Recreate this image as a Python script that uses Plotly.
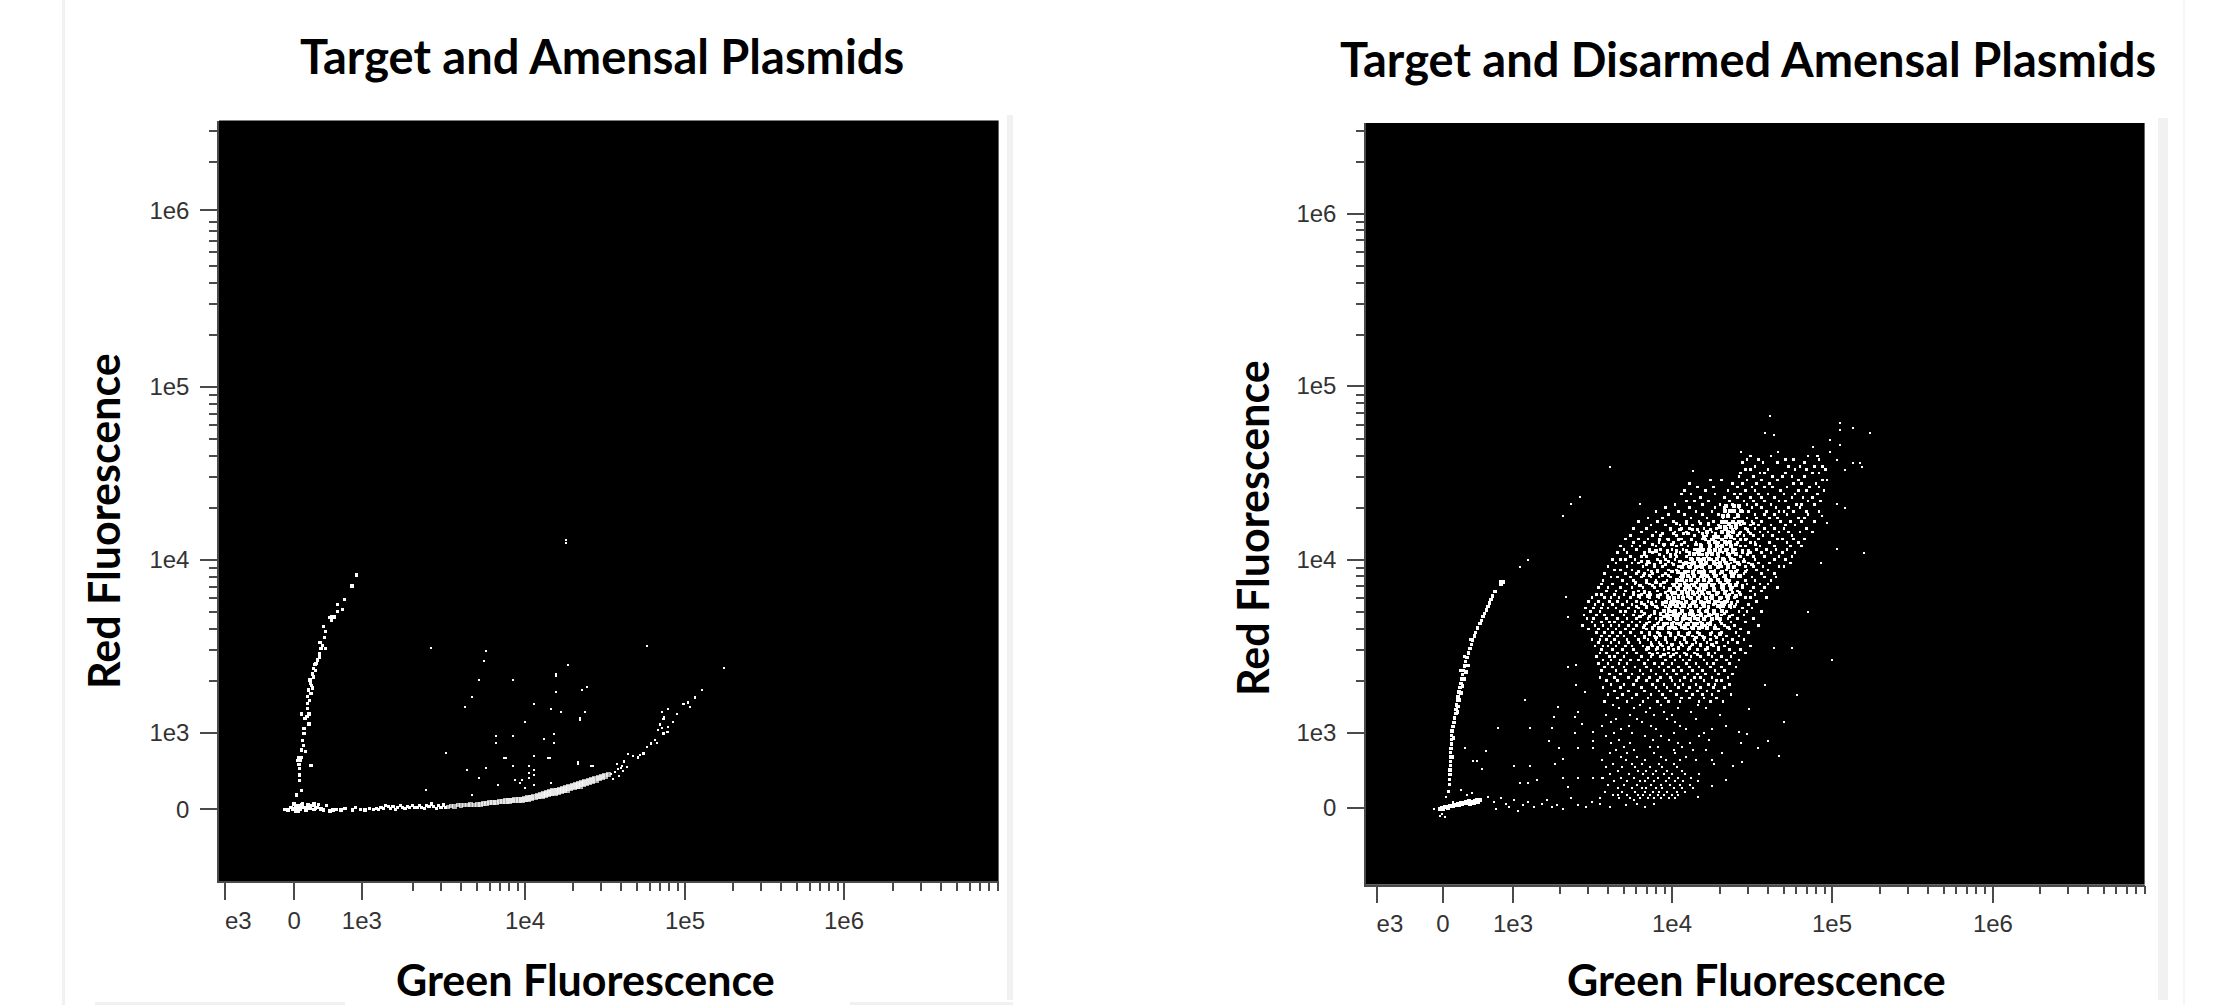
import math
import plotly.graph_objects as go

# All values are in instrument display channels (biexponential scale, 100 channels per decade).
LEFT_X_TICKS = [112.5, 155.8, 198, 300, 400, 499.4]
LEFT_Y_TICKS = [156, 200, 300, 400, 502]
RIGHT_X_TICKS = [115.4, 156.9, 200.6, 300, 400, 500.6]
RIGHT_Y_TICKS = [156.6, 200, 300, 400.5, 500]
X_LABELS = ["\u00a0\u00a0\u00a0\u00a0e3", "0", "1e3", "1e4", "1e5", "1e6"]
Y_LABELS = ["0", "1e3", "1e4", "1e5", "1e6"]

# ---- Left panel: target and amensal plasmids
left_arc_green = [194.8,191.9,187.3,182.9,185.8,182.9,180.6,179.2,177.7,179.2,181,174,175.4,174.6,171.9,175.4,173.4,172.5,171.5,170.2,171.5,168.7,167.7,169.4,169,167.1,165.6,168,166.7,164.6,166.2,167.4,164.2,165.4,164.2,164.2,160.4,165,162.5,165,161.9,161.9,161,160.4,166.2,159.4,157.7,158.6,159,159,159,160.4,157.3,161.4,163,160.2,158.7,163.8,165.8]
left_arc_red = [291.3,285,277.3,274.4,271.5,270.1,267.2,267.2,266.7,265.3,267,261.8,258.6,255.3,252.2,248.9,250.6,248.9,245.7,242.2,243.8,239.7,237.4,240.4,236,234.1,230.6,232.4,227.7,224.9,222.9,226,221,219,217.1,214.3,211,211,208.5,205.2,202.7,199.8,195.9,190.2,181.1,184.4,184,186,179.6,175.7,172.8,167,164.2,193,189.2,186,182,209.5,228.8]
left_blob_green = [150,152,153.5,155,156.5,157,158,159.5,160.5,162,163,164.5,165.5,167,168,170,171,172.5,174,155.5,158.5,161,164,168,172,176,178,154,157,160,163,166,169]
left_blob_red = [155.9,155.5,157,156,157.5,155,158,156,158.5,157,155.5,158.5,156.5,158,155.8,157,158.8,156.5,155.5,159,155,159,157.5,159,156,158,155,157,156.6,157.4,157,157.2,156.8]
left_tail_green = [180,182,185,187.5,192,194,197,200,203,205.5,207,208.5,210,211.5,213,214.5,216,217.5,219,220.5,222,223.5,225,226.5,228,229.5,231,232.5,234,235.5,237,238.5,240,241.5,243,244.5,246,247.5,249,250.5]
left_tail_red = [155.5,156,155.5,156.5,155.5,157,156,155.5,156.5,156,156.5,156,157,156.5,158,157.5,156.5,157.5,156,157,158,157,156.5,157.5,157,158,157,156.8,158.2,157,156.5,158,157.4,159,157.5,156.5,158,157,158.4,157]
left_band_green = [252,254,256,258,260,262,264,266,268,270,272,274,276,278,280,282,284,286,288,290,292,294,296,298,300,302,304,306,308,310,312,314,316,318,320,322,324,326,328,330,332,334,336,338,340,342,344,346,348,350,352]
left_band_red = [157.5,158,157.5,158.2,158,158.5,158.3,158.7,158.5,159,158.8,159.2,159.3,159.6,159.8,160,160.2,160.4,160.6,160.8,161,161.2,161.4,161.6,162,162.3,162.7,163,163.5,164,164.5,165,165.5,165.9,166.3,166.8,167.3,167.8,168.4,168.9,169.5,170.1,170.8,171.4,172,172.6,173.2,173.9,174.6,175.3,176]
left_band_widths = [4,4,4.5,4,4.5,4,4.5,5,4.5,5,5,5,5,5,5.5,5.5,5,5.5,5.5,5.5,5.5,6,6,6,6,6.5,6,6.5,6.5,7,7,7,7,7.5,7,7,7,7.5,7,7,7,7.5,7,7,6.5,6.5,6.5,6,6,5.5,5]
left_fray_green = [354,356,358,360,357.3,360.4,363.5,355,359,361.5,362,364.6,367.7,370.8,374,378.5,382.3,383.3,386.5,389.6,392.7,385.4,389.6,386.9,394.8,399,402.1,403.1,406.3,410.8,372,376,381,389,385.4,384.2,386.5]
left_fray_red = [176.5,177.6,179,180,182,181,180.5,173.5,175,178,183.5,187.9,186.7,185.9,188.2,194,194.4,201.7,199.8,203.7,206.6,212.3,213.7,209.1,211,216.6,217.7,215.2,220.6,224.9,187.4,192,196,200.8,203,205,208]
left_stray_green = [325.4,325.4,241.3,275.6,274.4,271.3,292.3,266.9,262.5,319.4,319.4,326.9,319.4,335.8,338.8,305.8,316.3,322.3,337.3,334.4,334.4,299.8,281.9,292.3,317.9,311.9,281.9,317.9,250.4,287.1,288.4,305.8,314.2,315.5,332.9,332.9,341,342.3,292.3,302.7,263.8,275.8,305.8,302.7,305.8,271.3,302.7,293.8,298.3,296.9,316.3,283.3,305.8,299.8,238.3,266.9,376.3,424.4]
left_stray_red = [311.5,309.6,248.9,247.6,241.8,230.6,230.6,220.6,215,234.1,232.8,239.1,223.5,224.9,226.4,216.6,213.7,212.3,212.3,208.9,207.6,206.6,198.3,198.3,199.4,196.5,194,194,188.2,185.4,185.4,186.7,185.4,185.4,183.4,182,181.1,181.1,181.1,181.1,178.4,179.8,178.4,177.1,175.5,174.2,174.2,172.8,172.8,171.3,171.3,170,170,168.4,167,164.2,250.3,237.8]

# ---- Right panel: target and disarmed amensal plasmids
right_arc_green = [160.8,161,161.2,161.3,161.4,161.6,161.6,161.7,161.8,162,162.1,162.2,162.5,163,163.7,164.2,164.8,165,165.4,165.8,166.3,166.9,167.4,168,168.8,169,169.6,170.5,171,171.8,172.8,173.7,174.8,175.5,176.5,177.3,178.6,180,181,182,183,183.9,184.9,186,187,188,189.4,193,193.5,194.4,192.8,160.2,163.5,166,168,162.7,170.5,174,165.4,166.2,167.2,168.2,169.2,170.2,171.2,172.4]
right_arc_red = [170,173,176,178.5,181,183.5,186,188.5,191,193.5,196,198.5,201,203.5,206,208.5,211,213.5,216,218.9,221,223.5,226,228.5,231,233.5,236,238.5,241,243.5,246,248.5,251,253.5,256,258,260.5,263,265,267,269,271,273,275,277,279,281.5,287.3,285.5,287,286,166,197,212,236,186,244,254,211,215,219,223,227,231,235,239]
right_blob_green = [155,156,157,158,159,160,161,162,163,164,165,166,167,168,169,170,171,172,173,174,175,176,177,178,179,180]
right_blob_red = [156,156.4,156,156.8,157.2,156.6,157.5,157.9,157.4,158.4,158.1,158.8,158.3,159.1,158.7,159.4,160,159.2,160.3,158.9,160.2,159.5,160.6,161,159.8,161.2]
right_stray_green = [361,405,405,413,424,358,364,399,405,399,343,366,388,403,413,417.5,418.5,408,261,313,242.5,237,232,280,403,408,394,397,403,420,393,210,205,233.5,235,400,385,364,375,358,378,348,370,360,353.5,367,334,316,342,347,343,338,343.5,325,325,208,191.5,211,170.5,184,175.5,178,181,201,211,205,210,215.5,225,223,226,229,229.5,227,232,241.5,235,240,240,245.5,241.5,239.5,239.5,244,250.5,250.5,250.5,232,241.5,250.5,256,235,151,155,158,156,185,189,190,193,196,198,201,204,207,210,214,219,222,225,228,232,237,241,246,250,255,261,266,271,276,278,283,289,158.5,163,168,172,175]
right_stray_red = [383,379,375,376,373.5,373.5,372,369,366,362,362,362,365,357.5,356,355.7,353.8,352,353.8,351,336.4,332,325,332,332,330,325,321,306,304,298,300,295.6,278.6,267,242,270,248.7,248.7,227.6,221.8,213.5,206,195,191,186.7,172.6,163,200.6,199,194,181,183,184,169,219,202.5,202.5,191,189.6,183.8,183.8,179,181,181,171,171,172.6,202.5,195,209,215,191,182,185,191,238,239,227.6,223.7,212,209,200,205,200.6,195,191,174,174,174,174,168.4,156,152,151,153,163,160,156,162,159,157,161,155,158,160,157,159,161,157,158,156,162,158,157,160,159,157,164,158,161,159,157,159,163,160,167,164,165]

cloud_red_levels = [360,358,356,354,352,350,348,346,344,342,340,338,336,334,332,330,328,326,324,322,320,318,316,314,312,310,308,306,304,302,300,298,296,294,292,290,288,286,284,282,280,278,276,274,272,270,268,266,264,262,260,258,256,254,252,250,248,246,244,242,240,238,236,234,232,230,228,226,224,222,220,218]
cloud_green_by_level = [
 [349,362,385,391],
 [347,354,371,376,392],
 [344,357,366,383],
 [352,373,380,389,394],
 [346,349,360,377,384,396],
 [343,355,358,371,388,392],
 [342,351,363,369,375,383],
 [324,331,347,356,366,379,394,397],
 [311,338,344,353,361,376,381,390],
 [316,326,341,350,358,363,372,386,392],
 [308,321,335,346,352,368,379,384,395],
 [306,312,327,339,343,354,360,370,377,391],
 [318,333,341,349,356,364,375,382,388],
 [309,314,323,336,345,351,358,367,371,385,393],
 [302,319,330,338,347,353,362,378,381,389],
 [296,311,327,333,342,350,356,365,373,380],
 [290,304,315,325,337,344,348,359,367,370,376,384,392],
 [298,308,319,329,335,341,352,358,364,372,385],
 [285,294,312,322,332,339,347,353,361,366,379,383],
 [279,291,301,309,317,326,331,338,344,350,356,368,374,381,389],
 [287,296,305,313,323,329,335,343,349,354,362,371,377],
 [276,284,299,306,311,320,328,334,340,346,352,358,364,370,384],
 [281,290,302,309,317,325,331,337,343,348,355,360,367,373,380,388],
 [274,288,293,303,314,322,327,336,341,345,351,357,363,375],
 [271,279,285,297,306,312,319,326,332,339,347,354,366,369,376,383],
 [276,283,292,301,308,315,323,329,334,341,349,352,361,372,379],
 [268,275,280,290,295,303,310,318,330,337,343,346,355,364,374,381],
 [270,278,286,293,300,307,314,320,327,335,340,353,359,365,372],
 [266,272,283,288,297,305,311,316,324,332,338,344,349,356,362,369,377],
 [274,281,284,295,299,303,309,322,329,336,343,351,358,367,375],
 [263,268,271,277,291,296,302,313,318,325,333,339,345,352,364,371],
 [265,275,279,286,293,300,307,311,321,328,337,342,348,354,361,374],
 [260,272,282,289,294,304,310,317,324,331,335,346,351,357,367,370],
 [264,268,275,285,291,298,303,314,320,327,334,341,347,353,360],
 [258,271,278,283,288,296,306,313,319,326,330,339,345,356,364],
 [262,266,274,281,287,292,299,305,311,318,323,332,337,343,350,358,365],
 [257,269,276,284,290,297,304,309,316,325,329,336,346,352,362],
 [256,263,272,277,286,293,300,308,312,320,327,333,340,347,355,360],
 [254,260,268,275,282,289,295,303,310,315,322,331,338,344,351,358,366],
 [259,265,271,279,283,291,298,306,313,318,326,334,341,349,356],
 [253,256,264,270,276,281,287,293,300,307,314,320,328,336,343,352],
 [250,258,262,267,274,280,286,292,297,304,311,317,324,331,339,346,349,359],
 [248,254,261,266,272,278,285,290,296,302,309,315,322,329,335,341,353],
 [252,257,263,269,275,283,288,294,301,308,312,319,326,333,340,348],
 [246,251,256,260,265,273,279,284,291,298,305,310,318,323,330,337,344,350],
 [249,255,268,271,277,281,289,295,300,307,313,321,327,334,342,347,356],
 [245,253,258,263,270,276,282,287,293,299,304,311,316,325,331,338,345],
 [247,251,259,266,272,278,285,290,297,302,309,314,320,328,335,341,351],
 [250,256,261,264,269,275,280,286,292,301,306,312,318,324,330,337,346],
 [244,252,257,262,267,273,278,283,289,295,300,308,315,321,327,333,339,354],
 [248,254,260,265,271,276,284,288,294,303,310,317,322,329,336,343],
 [253,258,263,268,274,281,286,291,298,304,311,316,325,331,340,348],
 [256,261,266,270,277,283,289,293,299,306,313,319,327,334,342],
 [250,255,259,264,272,279,285,290,296,302,308,314,320,324,332,338,345],
 [254,262,267,273,280,287,292,297,305,309,315,322,328,335,341],
 [252,257,260,265,271,275,282,288,294,300,307,312,318,326,333,349],
 [256,263,269,276,284,290,295,301,310,316,321,329,336,343],
 [255,259,266,272,278,286,291,298,303,308,314,323,327,339,346],
 [253,261,264,270,281,287,293,299,305,312,318,325,331,337],
 [257,262,268,274,279,285,296,302,307,311,320,328,334,342],
 [254,260,267,272,283,289,294,300,309,315,322,326,336],
 [258,263,270,277,284,292,298,304,311,317,324,331,340],
 [256,265,271,280,287,295,301,306,313,319,327,333],
 [261,268,275,282,290,297,303,310,316,321,329,338],
 [255,264,273,279,286,293,299,308,314,318,325,335],
 [259,266,278,284,291,300,305,312,320,328,331],
 [262,270,276,288,295,302,307,315,323,327,336],
 [257,268,281,290,297,304,311,318,326,333],
 [264,273,283,292,299,309,316,322,329],
 [260,269,278,287,294,303,313,319,325,337],
 [266,275,285,296,306,311,320,328],
 [258,272,282,291,298,305,317,324,332],
]

low_red_levels = [216,214,212,210,208,206,204,202,200,198,196,194,192,190,188,186,184,182,180,178,176,174,172,170,168,166,164,162]
low_green_by_level = [
 [263,280,293,316],
 [267,276,286,304,321],
 [284,295,312],
 [259,274,289,300,330],
 [265,278,297,315],
 [262,281,302],
 [256,273,287,305,334],
 [268,290,309,325],
 [264,275,301,320],
 [259,283,293,317],
 [267,288,298,323],
 [262,274,304,311],
 [270,286,291,306],
 [265,276,301,313,321],
 [261,272,289,302,331],
 [268,278,293,309],
 [256,271,283,296,305,315],
 [263,275,281,292,301,326],
 [259,269,277,286,294,303],
 [266,279,284,290,297,306],
 [261,273,282,288,295,300,308,317],
 [257,268,276,285,291,298,304,312],
 [264,272,280,283,289,296,302,307,316],
 [260,270,278,287,293,299,305,311],
 [266,275,281,284,290,294,301,306,313],
 [258,269,277,283,288,292,297,303,308],
 [263,272,279,282,286,291,295,300,304],
 [255,267,274,280,285,289,293,298,302],
]

halo_red_levels = [321,317.5,315,311.5,309,305,303,299,297,293,291,287,285,281,279,275,273,269,267,263,261,257,255,251,249,245]
halo_green_by_level = [
 [303,309,318,323,336,340,345,351],
 [299,305,313,316,324,333,338,347],
 [294,301,307,310,319,327,335,342,349],
 [292,298,304,312,321,325,331,343,346],
 [288,295,300,306,315,318,328,334,340,352],
 [286,290,297,303,309,316,324,330,338,344,348],
 [283,292,299,302,311,319,322,329,336,347],
 [281,285,293,298,305,313,317,326,333,339,345],
 [284,289,296,301,307,312,320,327,335,342,350],
 [279,287,291,300,304,310,318,324,331,340,346],
 [282,286,294,298,306,314,321,328,337,343],
 [277,284,290,295,303,308,315,323,330,335,341],
 [280,288,293,301,305,311,319,326,332,344],
 [276,283,286,296,300,309,316,322,329,338,342],
 [279,285,291,297,304,310,317,325,334,340],
 [281,287,294,299,306,313,320,327,331,337],
 [278,284,290,296,302,308,315,323,330,339],
 [283,289,293,301,305,311,318,326,333],
 [280,286,295,298,307,314,321,328,336],
 [284,291,297,303,309,316,322,331],
 [282,288,294,300,306,312,319,327,335],
 [286,292,299,304,310,317,324,330],
 [283,290,296,302,308,315,320,328],
 [287,293,300,306,313,318,325],
 [285,291,298,304,311,322,329],
 [288,295,301,309,316,323],
]

core_red_levels = [331,328,325,322,319,316,313,310.5,308,305.5,303,300.5,298,295.5,293,290.5,288,285.5,283,280.5,278,275.5,273,270.5,268,265.5,263,260.5]
core_green_by_level = [
 [334,339,342],
 [333,336,339,343],
 [332,335,341],
 [331,334,338,342],
 [330,333,337,340],
 [322,331,335,338],
 [320,326,329,334,337],
 [323,327,333,336],
 [318,324,328,331,337],
 [316,319,323,327,330,334,338],
 [314,317,322,325,329,335,340],
 [312,316,320,323,328,332,337],
 [309,314,318,321,326,330,334,341],
 [306,311,315,319,324,329,335,339],
 [304,308,313,317,320,326,331,337],
 [307,310,314,319,322,327,333,338,342],
 [303,306,312,316,320,324,329,334],
 [301,305,309,314,318,321,325,331,336,340],
 [299,304,308,311,317,320,326,332,337],
 [302,306,310,313,319,323,328,333],
 [298,301,307,312,316,321,325,330,335],
 [296,300,304,309,314,318,323,327,333],
 [299,303,307,311,315,320,329,332,336],
 [295,298,302,306,312,317,322,326,331],
 [297,301,304,308,313,318,323,328],
 [293,299,303,307,311,316,320,325,330],
 [295,300,305,310,314,319,324],
 [292,298,302,308,313,317,322,327],
]

def flatten(levels, rows):
    gx, gy = [], []
    for level, row in zip(levels, rows):
        for value in row:
            gx.append(value)
            gy.append(level)
    return gx, gy

cloud_green, cloud_red = flatten(cloud_red_levels, cloud_green_by_level)
low_green, low_red = flatten(low_red_levels, low_green_by_level)
halo_green, halo_red = flatten(halo_red_levels, halo_green_by_level)
core_green, core_red = flatten(core_red_levels, core_green_by_level)

fig = go.Figure()

def add(name, gx, gy, size, axes):
    fig.add_trace(go.Scatter(x=gx, y=gy, mode="markers", name=name, showlegend=False, hoverinfo="skip",
                             marker=dict(color="white", size=size, symbol="square", line=dict(width=0)),
                             xaxis=axes[0], yaxis=axes[1]))

L = ("x", "y")
R = ("x2", "y2")
add("arc", left_arc_green, left_arc_red, 3.2, L)
add("baseline", left_blob_green, left_blob_red, 3.4, L)
add("tail", left_tail_green, left_tail_red, 3.2, L)
add("band", left_band_green, left_band_red, left_band_widths, L)
add("fray", left_fray_green, left_fray_red, 2.2, L)
add("stray", left_stray_green, left_stray_red, 2, L)
add("cloud", cloud_green, cloud_red, 2.6, R)
add("low", low_green, low_red, 2, R)
add("halo", halo_green, halo_red, 3.2, R)
add("core", core_green, core_red, 4, R)
add("arc", right_arc_green, right_arc_red, 3.4, R)
add("baseline", right_blob_green, right_blob_red, 4, R)
add("stray", right_stray_green, right_stray_red, 2, R)

W, H = 2215, 1005
TICK_FONT = dict(family="Liberation Sans, Arial, sans-serif", size=24, color="#333333")
AXIS_COLOR = "#4a4a4a"

def decade_minors(first, last):
    vals = []
    for d in range(first, last):
        for k in range(2, 10):
            vals.append(d * 100 + 100 * math.log10(k))
    return vals

def x_axis(domain, rng, ticks, anchor):
    return dict(domain=[domain[0] / W, domain[1] / W], range=rng, anchor=anchor, tickmode="array", tickvals=ticks, ticktext=X_LABELS,
                ticks="outside", ticklen=17, tickwidth=1.5, tickcolor=AXIS_COLOR, tickfont=TICK_FONT, ticklabelstandoff=0,
                showgrid=False, zeroline=False, showline=True, linecolor=AXIS_COLOR, linewidth=1.5,
                minor=dict(tickmode="array", tickvals=decade_minors(2, 6), ticks="outside", ticklen=8, tickwidth=1.5, tickcolor=AXIS_COLOR, showgrid=False))

def y_axis(domain, rng, ticks, anchor):
    return dict(domain=[1 - domain[1] / H, 1 - domain[0] / H], range=rng, anchor=anchor, tickmode="array", tickvals=ticks, ticktext=Y_LABELS,
                ticks="outside", ticklen=17, tickwidth=1.5, tickcolor=AXIS_COLOR, tickfont=TICK_FONT, ticklabelstandoff=6,
                showgrid=False, zeroline=False, showline=True, linecolor=AXIS_COLOR, linewidth=1.5,
                minor=dict(tickmode="array", tickvals=decade_minors(2, 6), ticks="outside", ticklen=8, tickwidth=1.5, tickcolor=AXIS_COLOR, showgrid=False))

def text(label, x, y, size, angle=0):
    return dict(text=label, x=x / W, y=1 - y / H, xref="paper", yref="paper", showarrow=False, textangle=angle,
                xanchor="center", yanchor="middle", font=dict(family="Lato, Noto Sans, sans-serif", size=size, color="black", weight="bold"))

def band(x0, y0, x1, y1, color="#f1f1f1"):
    return dict(type="rect", xref="paper", yref="paper", x0=x0 / W, x1=x1 / W, y0=1 - y0 / H, y1=1 - y1 / H,
                fillcolor=color, line=dict(width=0), layer="below")

fig.update_layout(
    width=W, height=H, autosize=False, margin=dict(l=0, r=0, t=0, b=0, autoexpand=False),
    paper_bgcolor="white", plot_bgcolor="black", showlegend=False,
    xaxis=x_axis((219, 998.6), [108.75, 596], LEFT_X_TICKS, "y"),
    yaxis=y_axis((120.5, 881), [114.5, 554], LEFT_Y_TICKS, "x"),
    xaxis2=x_axis((1366, 2144.6), [108.75, 595.4], RIGHT_X_TICKS, "y2"),
    yaxis2=y_axis((123, 884.6), [112.2, 552.4], RIGHT_Y_TICKS, "x2"),
    annotations=[
        text("Target and Amensal Plasmids", 602, 56, 47),
        text("Target and Disarmed Amensal Plasmids", 1748, 59, 47),
        text("Green Fluorescence", 585, 979, 43),
        text("Green Fluorescence", 1756, 979, 43),
        text("Red Fluorescence", 103, 521, 43, -90),
        text("Red Fluorescence", 1252, 528, 43, -90),
    ],
    shapes=[
        band(62, 0, 65, 1005),
        band(1007, 115, 1013, 1000),
        band(95, 1002, 345, 1005),
        band(850, 1002, 1013, 1005),
        band(2158, 118, 2168, 1000),
        band(2183, 0, 2185, 1005, "#f6f6f6"),
    ],
)

fig.write_html("out.html", config={"displayModeBar": False},
               post_script="document.body.style.margin='0';document.documentElement.style.overflow='hidden';"
                           "document.querySelectorAll('.scatterlayer .points path').forEach(function(p){p.style.shapeRendering='crispEdges';});")
